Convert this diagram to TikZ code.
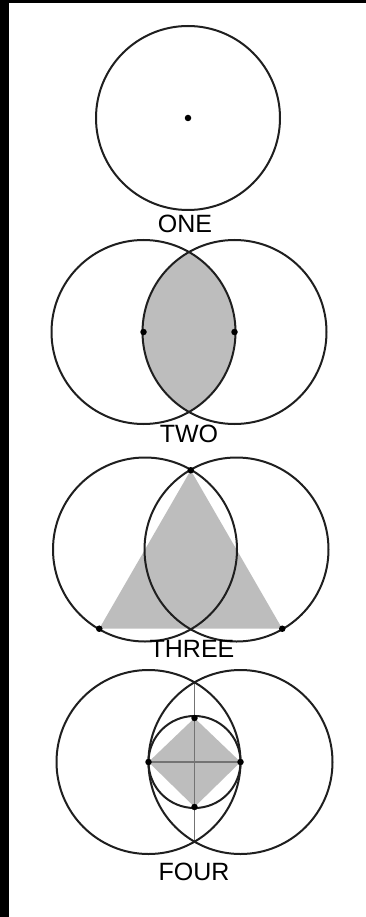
\documentclass[tikz,border=0pt]{standalone}
\usepackage{fontspec}
\setmainfont{Liberation Sans}
\usepackage{tikz}
\usetikzlibrary{calc, positioning}

\begin{document}
\begin{tikzpicture}[
  x=1pt, y=-1pt,
  ring/.style={draw=black!88, line width=2pt},
  guide/.style={draw=black!55, line width=1.6pt},
  shade/.style={fill=black!26},
  pt/.style={circle, fill=black, minimum size=6.5pt, inner sep=0pt},
  caption/.style={font=\fontsize{25}{28}\selectfont, inner sep=0pt}
]

  %---------------- FRAME ----------------%
  \useasboundingbox (0,0) rectangle (366,917);
  \fill[black] (0,0) rectangle (366,917);
  \fill[white] (9,3) rectangle (366,917);

  %---------------- ONE ----------------%
  \coordinate (c1) at (188,118);
  \draw[ring] (c1) circle[radius=92];
  \node[pt] (d1) at (c1) {};
  \node[caption] (one) at (185,224) {ONE};

  %---------------- TWO ----------------%
  \coordinate (c2a) at (143.5,332);
  \coordinate (c2b) at (234.5,332);
  \begin{scope}
    \clip (c2a) circle[radius=92];
    \fill[shade] (c2b) circle[radius=92];
  \end{scope}
  \draw[ring] (c2a) circle[radius=92];
  \draw[ring] (c2b) circle[radius=92];
  \node[pt] (d2a) at (c2a) {};
  \node[pt] (d2b) at (c2b) {};
  \node[caption] (two) at (189,434) {TWO};

  %---------------- THREE ----------------%
  \coordinate (c3a) at (145,549.5);
  \coordinate (c3b) at (236.5,549.5);
  \coordinate (t3) at ($(c3a)!1!60:(c3b)$);
  \coordinate (l3) at ($(t3)!2!(c3a)$);
  \coordinate (r3) at ($(t3)!2!(c3b)$);
  \fill[shade] (t3) -- (l3) -- (r3) -- cycle;
  \draw[ring] (c3a) circle[radius=92];
  \draw[ring] (c3b) circle[radius=92];
  \node[pt] (d3t) at (t3) {};
  \node[pt] (d3l) at (l3) {};
  \node[pt] (d3r) at (r3) {};
  \node[caption] (three) at (192,649) {THREE};

  %---------------- FOUR ----------------%
  \coordinate (c4a) at (148.5,762);
  \coordinate (c4b) at (240.5,762);
  \coordinate (m4) at ($(c4a)!0.5!(c4b)$);
  \coordinate (t4) at ($(c4a)!1!60:(c4b)$);
  \coordinate (b4) at ($(c4a)!1!-60:(c4b)$);
  \coordinate (n4) at ($(m4)+(0,-44)$);
  \coordinate (s4) at ($(m4)+(0,45)$);
  \fill[shade] (c4a) -- (n4) -- (c4b) -- (s4) -- cycle;
  \draw[guide] (t4) -- (b4);
  \draw[guide] (c4a) -- (c4b);
  \draw[ring] (c4a) circle[radius=92];
  \draw[ring] (c4b) circle[radius=92];
  \draw[ring] (m4) circle[radius=46];
  \node[pt] (d4a) at (c4a) {};
  \node[pt] (d4b) at (c4b) {};
  \node[pt] (d4n) at (n4) {};
  \node[pt] (d4s) at (s4) {};
  \node[caption] (four) at (194,872) {FOUR};

\end{tikzpicture}
\end{document}
